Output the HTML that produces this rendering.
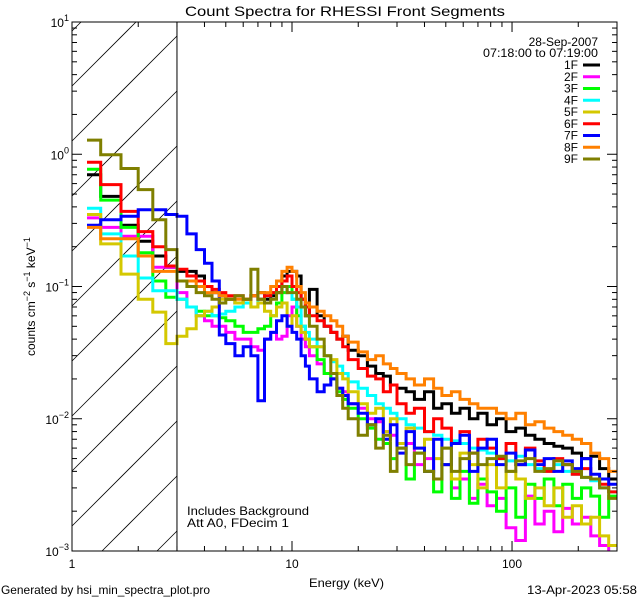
<!DOCTYPE html>
<html><head><meta charset="utf-8"><style>
html,body{margin:0;padding:0;background:#fff;width:640px;height:600px;overflow:hidden}
svg{display:block}
text{font-family:"Liberation Sans",sans-serif;fill:#000}
</style></head><body>
<svg id="chart" width="640" height="600" viewBox="0 0 640 600" xmlns="http://www.w3.org/2000/svg">
<rect width="640" height="600" fill="#fff"/>
<defs><clipPath id="pc"><rect x="72" y="22" width="545" height="529"/></clipPath></defs>
<g id="hatch"></g>
<g id="series" clip-path="url(#pc)"></g>
<g id="axes"></g>
<text x="185" y="16" font-size="14" textLength="320" lengthAdjust="spacingAndGlyphs">Count Spectra for RHESSI Front Segments</text>
<text x="598" y="46" font-size="12" text-anchor="end">28-Sep-2007</text>
<text x="598" y="57" font-size="12" text-anchor="end" textLength="115" lengthAdjust="spacingAndGlyphs">07:18:00 to 07:19:00</text>
<g id="legend"></g>
<text x="187" y="515" font-size="12" textLength="122" lengthAdjust="spacingAndGlyphs">Includes Background</text>
<text x="187" y="527" font-size="12" textLength="102" lengthAdjust="spacingAndGlyphs">Att A0, FDecim 1</text>
<text x="309" y="587" font-size="12" textLength="75" lengthAdjust="spacingAndGlyphs">Energy (keV)</text>
<text x="1" y="594" font-size="12" textLength="209" lengthAdjust="spacingAndGlyphs">Generated by hsi_min_spectra_plot.pro</text>
<text x="637" y="594" font-size="12" text-anchor="end" textLength="110" lengthAdjust="spacingAndGlyphs">13-Apr-2023 05:58</text>
<text transform="translate(35,356) rotate(-90)" font-size="12">counts cm<tspan dy="-5" font-size="9">−2</tspan><tspan dy="5"> s</tspan><tspan dy="-5" font-size="9">−1</tspan><tspan dy="5"> keV</tspan><tspan dy="-5" font-size="9">−1</tspan></text>
</svg>
<script>
const edges=[1.17,1.35,1.67,2.0,2.33,2.67,3.0,3.33,3.67,4.0,4.33,4.67,5.0,5.5,6.0,6.5,7.0,7.5,8.0,8.5,9.0,9.5,10,10.5,11,11.5,12,13,14,15,16,17,18,20,22,24,26,28,30,33,36,40,44,48,53,58,64,70,77,85,94,104,115,127,140,155,170,188,207,228,250,275,300];
const seriesNames=["1F","2F","3F","4F","5F","6F","7F","8F","9F"];
const seriesColors=["#000000","#ff00ff","#00ff00","#00ffff","#d4c800","#ff0000","#0000ff","#ff8000","#7f7f00"];
const s1F=[0.70,0.48,0.29,0.22,0.17,0.14,0.13,0.13,0.12,0.10,0.09,0.085,0.08,0.075,0.08,0.085,0.09,0.08,0.085,0.09,0.12,0.13,
0.13,0.12,0.08,0.06,0.095,0.06,0.05,0.045,0.04,0.042,0.033,0.03,0.025,0.022,0.021,0.018,0.017,0.016,0.014,0.016,0.012,0.013,0.011,0.012,0.010,0.011,0.009,0.010,0.008,0.0085,0.0075,0.007,0.0065,0.0062,0.006,0.0055,0.005,0.0052,0.0042,0.0035];
const s2F=[0.33,0.28,0.24,0.24,0.14,0.14,0.09,0.07,0.06,0.055,0.05,0.05,0.045,0.04,0.04,0.035,0.033,0.04,0.045,0.04,0.042,0.06,
0.07,0.05,0.04,0.035,0.03,0.026,0.022,0.02,0.017,0.016,0.013,0.012,0.01,0.0095,0.008,0.0075,0.006,0.0065,0.0045,0.005,0.0035,0.0045,0.003,0.0035,0.0025,0.0032,0.0022,0.0025,0.0015,0.0012,0.0026,0.0016,0.002,0.0014,0.0021,0.0016,0.0018,0.0013,0.0011,0.0009];
const s3F=[0.77,0.45,0.28,0.18,0.11,0.083,0.08,0.07,0.065,0.06,0.06,0.058,0.055,0.05,0.045,0.045,0.048,0.05,0.06,0.075,0.09,0.10,
0.08,0.06,0.05,0.04,0.035,0.028,0.022,0.02,0.016,0.014,0.012,0.01,0.0085,0.007,0.0065,0.005,0.006,0.0035,0.0055,0.004,0.0028,0.0045,0.0025,0.004,0.0023,0.0035,0.0028,0.002,0.003,0.0018,0.0032,0.0025,0.0035,0.0022,0.0032,0.0025,0.003,0.0026,0.0018,0.0026];
const s4F=[0.39,0.25,0.17,0.116,0.093,0.093,0.08,0.07,0.06,0.065,0.06,0.062,0.065,0.07,0.075,0.07,0.08,0.085,0.09,0.10,0.10,0.09,
0.08,0.07,0.05,0.045,0.04,0.035,0.03,0.027,0.025,0.022,0.019,0.017,0.015,0.013,0.012,0.011,0.01,0.009,0.0085,0.008,0.0075,0.007,0.0068,0.0065,0.006,0.0058,0.0055,0.005,0.0048,0.0052,0.0045,0.0042,0.004,0.0045,0.004,0.0038,0.0036,0.0034,0.003,0.0028];
const s5F=[0.35,0.21,0.124,0.08,0.064,0.037,0.042,0.048,0.06,0.065,0.07,0.08,0.08,0.075,0.08,0.07,0.075,0.065,0.06,0.07,0.075,0.05,
0.06,0.05,0.045,0.04,0.035,0.035,0.03,0.028,0.022,0.02,0.016,0.013,0.011,0.012,0.008,0.01,0.0065,0.0085,0.006,0.007,0.005,0.006,0.0035,0.0055,0.0045,0.003,0.0045,0.003,0.004,0.0035,0.0025,0.003,0.0022,0.003,0.0018,0.0022,0.0016,0.0018,0.0013,0.0011];
const s6F=[0.87,0.59,0.37,0.26,0.20,0.143,0.135,0.12,0.11,0.10,0.095,0.09,0.085,0.085,0.08,0.085,0.08,0.085,0.09,0.10,0.11,0.12,
0.10,0.09,0.08,0.07,0.06,0.055,0.05,0.045,0.04,0.035,0.028,0.024,0.021,0.02,0.016,0.018,0.013,0.011,0.012,0.008,0.01,0.0085,0.0065,0.008,0.0055,0.007,0.006,0.005,0.0065,0.0045,0.006,0.0048,0.004,0.005,0.0045,0.0038,0.0042,0.0035,0.0032,0.0028];
const s7F=[0.29,0.32,0.34,0.38,0.38,0.35,0.34,0.25,0.19,0.15,0.11,0.043,0.037,0.03,0.035,0.03,0.0137,0.04,0.045,0.055,0.06,0.05,
0.045,0.04,0.03,0.025,0.02,0.016,0.018,0.02,0.017,0.015,0.013,0.011,0.009,0.01,0.007,0.009,0.0055,0.008,0.006,0.004,0.007,0.0045,0.0065,0.0075,0.004,0.006,0.007,0.0045,0.0055,0.0045,0.0058,0.0045,0.005,0.004,0.0048,0.0042,0.005,0.0038,0.0035,0.0032];
const s8F=[0.28,0.23,0.23,0.17,0.13,0.13,0.11,0.11,0.10,0.09,0.09,0.085,0.08,0.08,0.08,0.085,0.09,0.09,0.10,0.11,0.13,0.14,
0.13,0.10,0.09,0.075,0.07,0.065,0.06,0.055,0.05,0.042,0.038,0.032,0.028,0.03,0.026,0.024,0.022,0.02,0.018,0.02,0.017,0.015,0.016,0.014,0.013,0.012,0.012,0.011,0.010,0.011,0.009,0.0095,0.0085,0.008,0.0075,0.007,0.0065,0.0055,0.005,0.004];
const s9F=[1.28,0.99,0.78,0.54,0.32,0.19,0.11,0.10,0.09,0.085,0.08,0.075,0.08,0.085,0.08,0.135,0.08,0.075,0.08,0.09,0.10,0.09,
0.09,0.08,0.07,0.06,0.05,0.04,0.03,0.022,0.015,0.012,0.01,0.0075,0.009,0.006,0.0075,0.004,0.006,0.0045,0.0055,0.004,0.0035,0.006,0.004,0.005,0.0055,0.0045,0.005,0.0052,0.004,0.0048,0.005,0.004,0.0042,0.0048,0.0045,0.004,0.0036,0.0035,0.003,0.0025];
const seriesValues=[s1F,s2F,s3F,s4F,s5F,s6F,s7F,s8F,s9F];
const xTickVals=[1,10,100];
const xTickLabels=["1","10","100"];
const yTickExps=[1,0,-1,-2,-3];

const NS="http://www.w3.org/2000/svg";
const X0=72,X1=617,Y0=22,Y1=551;
const xMin=1,xMax=300,yMin=1e-3,yMax=10;
function xs(v){return X0+(Math.log10(v)-Math.log10(xMin))/(Math.log10(xMax)-Math.log10(xMin))*(X1-X0);}
function ys(v){return Y1-(Math.log10(v)-Math.log10(yMin))/(Math.log10(yMax)-Math.log10(yMin))*(Y1-Y0);}
function mk(tag,attrs,parent){const e=document.createElementNS(NS,tag);for(const k in attrs)e.setAttribute(k,attrs[k]);parent.appendChild(e);return e;}

const hatch=document.getElementById('hatch');
const HX1=xs(3);
for(let k=-2;k<13;k++){const c=86+55*k;
 // line: y = c - (x - X0); clip to [X0,HX1] x [Y0,Y1]
 let xa=X0, xb=HX1;
 xa=Math.max(xa, X0+(c-Y1));
 xb=Math.min(xb, X0+(c-Y0));
 if(xb<=xa) continue;
 const l=mk('line',{x1:xa,y1:c-(xa-X0),x2:xb,y2:c-(xb-X0),stroke:'#000','stroke-width':0.8},hatch);
 
 
}
const axes=document.getElementById('axes');
const ln=mk('line',{x1:HX1,y1:Y0,x2:HX1,y2:Y1,stroke:'#000','stroke-width':1},axes);



const sg=document.getElementById('series');
seriesValues.forEach((vals,i)=>{
 let d='';const n=Math.min(vals.length,edges.length-1);
 for(let j=0;j<n;j++){const xa=xs(edges[j]),xb=xs(edges[j+1]),y=Math.min(Y1+2,ys(vals[j]));
  d+=(j===0?'M':'L')+xa.toFixed(1)+','+y.toFixed(1)+'L'+xb.toFixed(1)+','+y.toFixed(1);}
 const p=mk('path',{d:d,fill:'none',stroke:seriesColors[i],'stroke-width':3,'stroke-linejoin':'miter'},sg);
 
 
});

const fr=mk('rect',{x:X0,y:Y0,width:X1-X0,height:Y1-Y0,fill:'none',stroke:'#000','stroke-width':1},axes);


for(let dec=1;dec<=100;dec*=10){for(let m=1;m<=9;m++){const v=dec*m;if(v>xMax)break;const x=xs(v);const L=m===1?10:5;
 mk('line',{x1:x,y1:Y1,x2:x,y2:Y1-L,stroke:'#000'},axes);mk('line',{x1:x,y1:Y0,x2:x,y2:Y0+L,stroke:'#000'},axes);}}
xTickVals.forEach((v,i)=>{const t=mk('text',{x:xs(v),y:Y1+17,'font-size':12,'text-anchor':'middle'},axes);t.textContent=xTickLabels[i];
 
 });
for(let e=-3;e<1;e++){for(let m=1;m<=9;m++){const v=m*Math.pow(10,e);const y=ys(v);const L=m===1?10:5;
 mk('line',{x1:X0,y1:y,x2:X0+L,y2:y,stroke:'#000'},axes);mk('line',{x1:X1,y1:y,x2:X1-L,y2:y,stroke:'#000'},axes);}}
mk('line',{x1:X0,y1:ys(10),x2:X0+10,y2:ys(10),stroke:'#000'},axes);
yTickExps.forEach(e=>{const y=ys(Math.pow(10,e));const t=mk('text',{x:X0-3,y:y+5,'font-size':12,'text-anchor':'end'},axes);
 t.innerHTML='10<tspan dy="-6" font-size="9">'+(e<0?'−'+(-e):e)+'</tspan>';
 
 });
const lg=document.getElementById('legend');
seriesNames.forEach((nm,i)=>{const y=65+i*11.75;
 const g=mk('g',{},lg);
 
 
 const t=mk('text',{x:578,y:y+4,'font-size':12,'text-anchor':'end'},g);t.textContent=nm;
 mk('line',{x1:583,y1:y,x2:600,y2:y,stroke:seriesColors[i],'stroke-width':3},g);
});
</script>
</body></html>
